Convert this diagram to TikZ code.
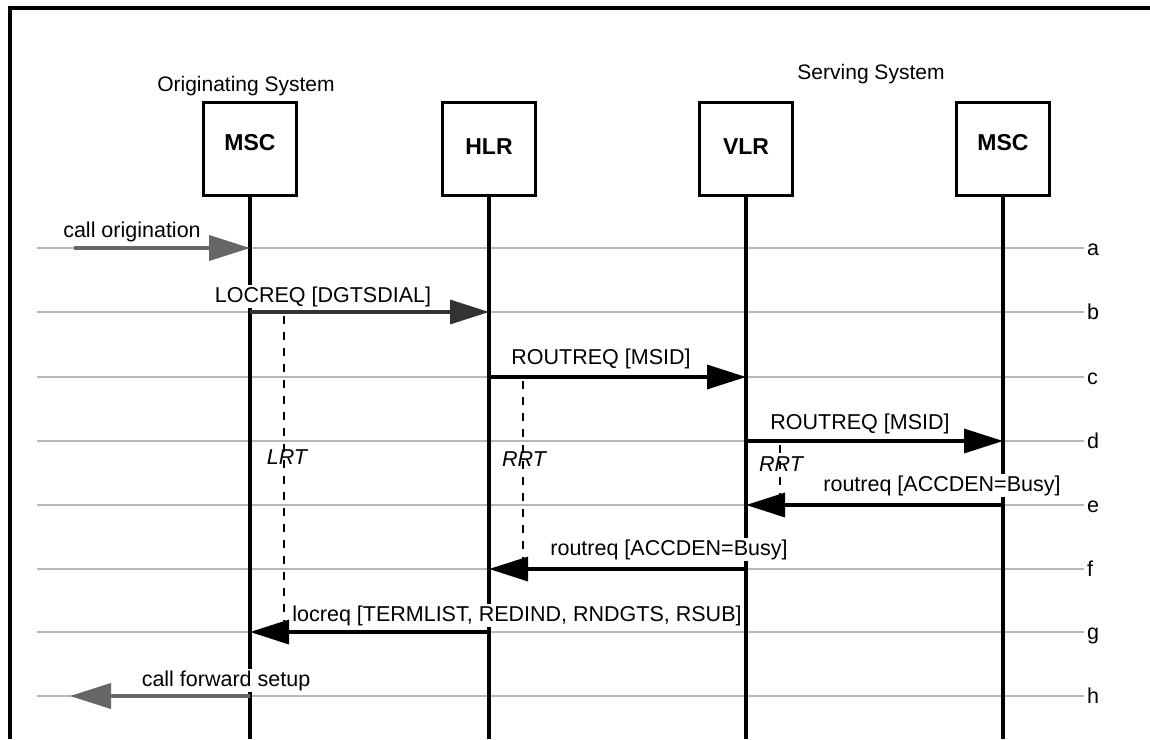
\documentclass[tikz,border=0pt]{standalone}
\usepackage{fontspec}
\setmainfont{Liberation Sans}
\usetikzlibrary{arrows.meta}
\begin{document}
\begin{tikzpicture}[x=1pt,y=-1pt,
  ent/.style={draw,line width=3pt,minimum width=93pt,minimum height=93pt,inner sep=0pt},
  entname/.style={font=\fontsize{23}{27}\selectfont\bfseries,inner sep=0pt},
  life/.style={line width=3.2pt},
  rowline/.style={black!28,line width=1.4pt},
  msg/.style={line width=3.4pt,-{Triangle[length=39pt,width=24pt]}},
  extmsg/.style={black!60,line width=4pt,-{Triangle[length=41pt,width=25pt]}},
  lbl/.style={fill=white,inner sep=1.5pt,anchor=base,font=\fontsize{21.5}{25}\selectfont},
  sys/.style={inner sep=0pt,anchor=base,font=\fontsize{21}{25}\selectfont},
  rowlbl/.style={inner sep=0pt,anchor=base west,font=\fontsize{21.5}{25}\selectfont},
  tmr/.style={line width=2.4pt,dash pattern=on 8pt off 8pt},
  tmrlbl/.style={inner sep=0pt,anchor=base,font=\fontsize{21.5}{25}\selectfont\itshape}
]
\useasboundingbox (0,0) rectangle (1150,739);
% frame
\coordinate (fb) at (10,739);
\coordinate (fc) at (10,8);
\coordinate (fr) at (1150,8);
\draw[line width=3.6pt] (fb) -- (fc) -- (fr);

% row lines
\foreach \r/\y in {a/248,b/312,c/377,d/441,e/505,f/569,g/632,h/696}{
  \coordinate (\r L) at (37,\y);
  \coordinate (\r R) at (1084,\y);
  \draw[rowline] (\r L) -- (\r R);
  \node[rowlbl] (lab\r) at (1087,\y+7) {\r};
}

% entities
\node[ent] (msc1) at (250,149) {};
\node[ent] (hlr) at (489,149) {};
\node[ent] (vlr) at (746,149) {};
\node[ent] (msc2) at (1003,149) {};
\node[entname] (n1) at ([yshift=6pt]msc1.center) {MSC};
\node[entname] (n2) at ([yshift=2pt]hlr.center) {HLR};
\node[entname] (n3) at ([yshift=2pt]vlr.center) {VLR};
\node[entname] (n4) at ([yshift=6pt]msc2.center) {MSC};
\node[sys] (orig) at (246,91.5) {Originating System};
\node[sys] (serv) at (871,79) {Serving System};

% lifelines
\foreach \e in {msc1,hlr,vlr,msc2}{
  \coordinate (\e bot) at (\e.south |- fb);
  \draw[life] (\e.south) -- (\e bot);
}

% timers
\coordinate (lrtS) at (284,316);
\coordinate (lrtE) at (284,621);
\coordinate (rrt1S) at (523,381);
\coordinate (rrt1E) at (523,562);
\coordinate (rrt2S) at (780,445);
\coordinate (rrt2E) at (780,498);
\draw[tmr] (lrtS) -- (lrtE);
\draw[tmr] (rrt1S) -- (rrt1E);
\draw[tmr] (rrt2S) -- (rrt2E);
\node[tmrlbl] (lrt) at (287,464) {LRT};
\node[tmrlbl] (rrt1) at (524,466.5) {RRT};
\node[tmrlbl] (rrt2) at (781,471.5) {RRT};

% messages
\coordinate (origin) at (74,248);
\coordinate (fwd) at (70,696);
\draw[extmsg] (origin) -- (msc1.south |- aL);
\draw[msg,black!80] (msc1.south |- bL) -- (hlr.south |- bL);
\draw[msg] (hlr.south |- cL) -- (vlr.south |- cL);
\draw[msg] (vlr.south |- dL) -- (msc2.south |- dL);
\draw[msg] (msc2.south |- eL) -- (vlr.south |- eL);
\draw[msg] (vlr.south |- fL) -- (hlr.south |- fL);
\draw[msg] (hlr.south |- gL) -- (msc1.south |- gL);
\draw[extmsg] (msc1.south |- hL) -- (fwd);

% message labels
\node[lbl] (la) at (132,237) {call origination};
\node[lbl] (lb) at (323,302) {LOCREQ [DGTSDIAL]};
\node[lbl] (lc) at (601,364.5) {ROUTREQ [MSID]};
\node[lbl] (ld) at (860,429) {ROUTREQ [MSID]};
\node[lbl] (le) at (942,491) {routreq [ACCDEN=Busy]};
\node[lbl] (lf) at (669,555) {routreq [ACCDEN=Busy]};
\node[lbl] (lg) at (517,621.5) {locreq [TERMLIST, REDIND, RNDGTS, RSUB]};
\node[lbl] (lh) at (226,686.5) {call forward setup};
\end{tikzpicture}
\end{document}
